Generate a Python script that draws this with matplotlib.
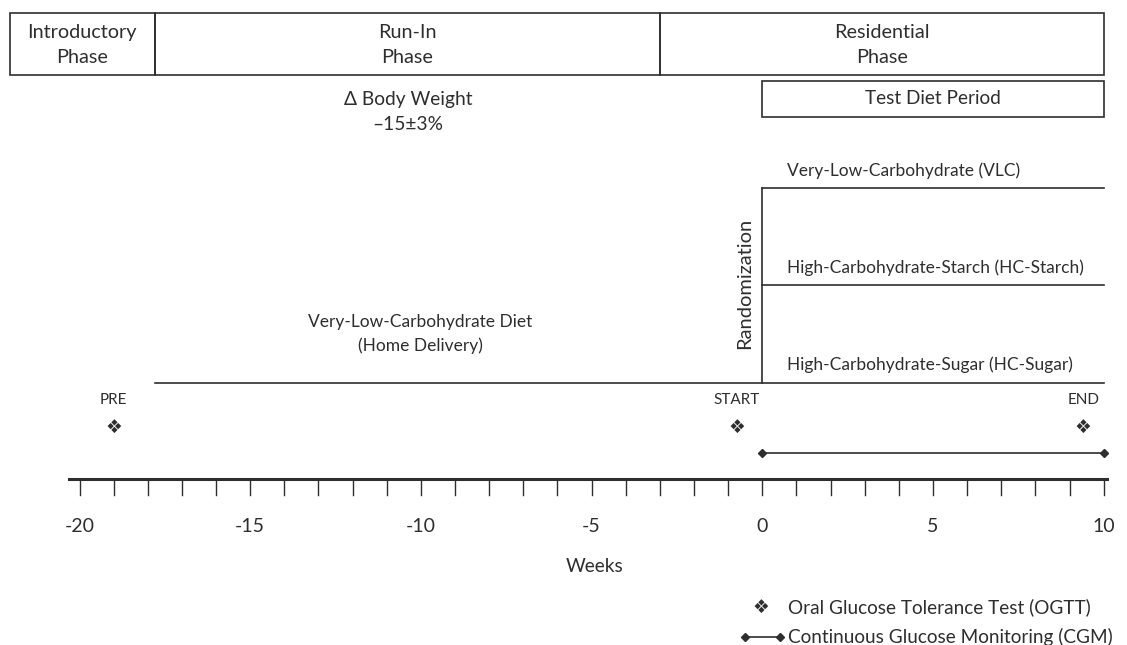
import matplotlib.pyplot as plt
from matplotlib.patches import Rectangle

plt.rcParams['font.family'] = ['Lato', 'DejaVu Sans']

# study timeline (weeks)
phase_names = ['Introductory\nPhase', 'Run-In\nPhase', 'Residential\nPhase']
phase_edges = [-22.05, -17.8, -3.0, 10.0]
test_diet = [0, 10]
runin_start = -17.8
arm_names = ['Very-Low-Carbohydrate (VLC)',
             'High-Carbohydrate-Starch (HC-Starch)',
             'High-Carbohydrate-Sugar (HC-Sugar)']
ogtt_weeks = [-19, -0.75, 9.4]
ogtt_labels = ['PRE', 'START', 'END']
cgm_weeks = [0, 10]
minor_ticks = list(range(-20, 11))
major_ticks = [-20, -15, -10, -5, 0, 5, 10]

# layout (vertical, in pixels from top)
y_top, y_bot = 13, 75
y_tdp = (81, 117)
y_arms = [188, 285, 383]
y_axis = 479
col = '#2e2e2e'
fs = 12.5

def px(p):
    return (p - 762.3) / 34.14

fig = plt.figure(figsize=(11.27, 6.45), dpi=100)
ax = fig.add_axes([0, 0, 1, 1])
ax.set_xlim(px(0), px(1127))
ax.set_ylim(645, 0)
ax.axis('off')

# phase boxes
for i, name in enumerate(phase_names):
    x0, x1 = phase_edges[i], phase_edges[i + 1]
    ax.add_patch(Rectangle((x0, y_top), x1 - x0, y_bot - y_top, fill=False, ec=col, lw=1.2))
    ax.text((x0 + x1) / 2, (y_top + y_bot) / 2 + 1, name,
            ha='center', va='center', fontsize=14.3, color=col, linespacing=1.55)

# test diet period box
ax.add_patch(Rectangle((test_diet[0], y_tdp[0]), test_diet[1] - test_diet[0],
                       y_tdp[1] - y_tdp[0], fill=False, ec=col, lw=1.2))
ax.text(sum(test_diet) / 2, sum(y_tdp) / 2, 'Test Diet Period', ha='center', va='center',
        fontsize=13.7, color=col)

ax.text(px(408), 112, 'Δ Body Weight\n–15±3%', ha='center', va='center',
        fontsize=13.8, color=col, linespacing=1.6)
ax.text(px(420), 334, 'Very-Low-Carbohydrate Diet\n(Home Delivery)', ha='center', va='center',
        fontsize=fs, color=col, linespacing=1.5)

# run-in line and randomised arms
ax.plot([runin_start, test_diet[1]], [y_arms[2], y_arms[2]], color=col, lw=1.2)
ax.plot([0, 0], [y_arms[0], y_arms[2]], color=col, lw=1.2)
for y in y_arms[:2]:
    ax.plot([0, test_diet[1]], [y, y], color=col, lw=1.2)
for name, y in zip(arm_names, [171, 268, 365]):
    ax.text(px(787), y, name, ha='left', va='center', fontsize=fs, color=col)
ax.text(px(745), 283, 'Randomization', rotation=90, ha='center', va='center',
        fontsize=14.5, color=col)

# OGTT markers
for w, lab in zip(ogtt_weeks, ogtt_labels):
    ax.text(w, 400, lab, ha='center', va='center', fontsize=11, color=col)
    ax.text(w, 427, '❖', ha='center', va='center', fontsize=13.5, color=col,
            family=['DejaVu Sans'])

# CGM
ax.plot(cgm_weeks, [453, 453], color=col, lw=1.2, marker='D', ms=4.5)

# time axis
ax.plot([px(69), px(1107)], [y_axis, y_axis], color=col, lw=2.2)
for w in minor_ticks:
    ax.plot([w, w], [y_axis, y_axis + 16], color=col, lw=1)
for w in major_ticks:
    ax.text(w, 527, str(w), ha='center', va='center', fontsize=14, color=col)
ax.text(px(595), 566, 'Weeks', ha='center', va='center', fontsize=13.8, color=col)

# legend
ax.text(px(761), 607, '❖', ha='center', va='center', fontsize=13.5, color=col,
        family=['DejaVu Sans'])
ax.text(px(788), 607, 'Oral Glucose Tolerance Test (OGTT)', ha='left', va='center',
        fontsize=13.7, color=col)
ax.plot([px(745), px(780)], [637, 637], color=col, lw=1.2, marker='D', ms=4)
ax.text(px(788), 637, 'Continuous Glucose Monitoring (CGM)', ha='left', va='center',
        fontsize=13.7, color=col)

plt.savefig('out.png', dpi=100)
